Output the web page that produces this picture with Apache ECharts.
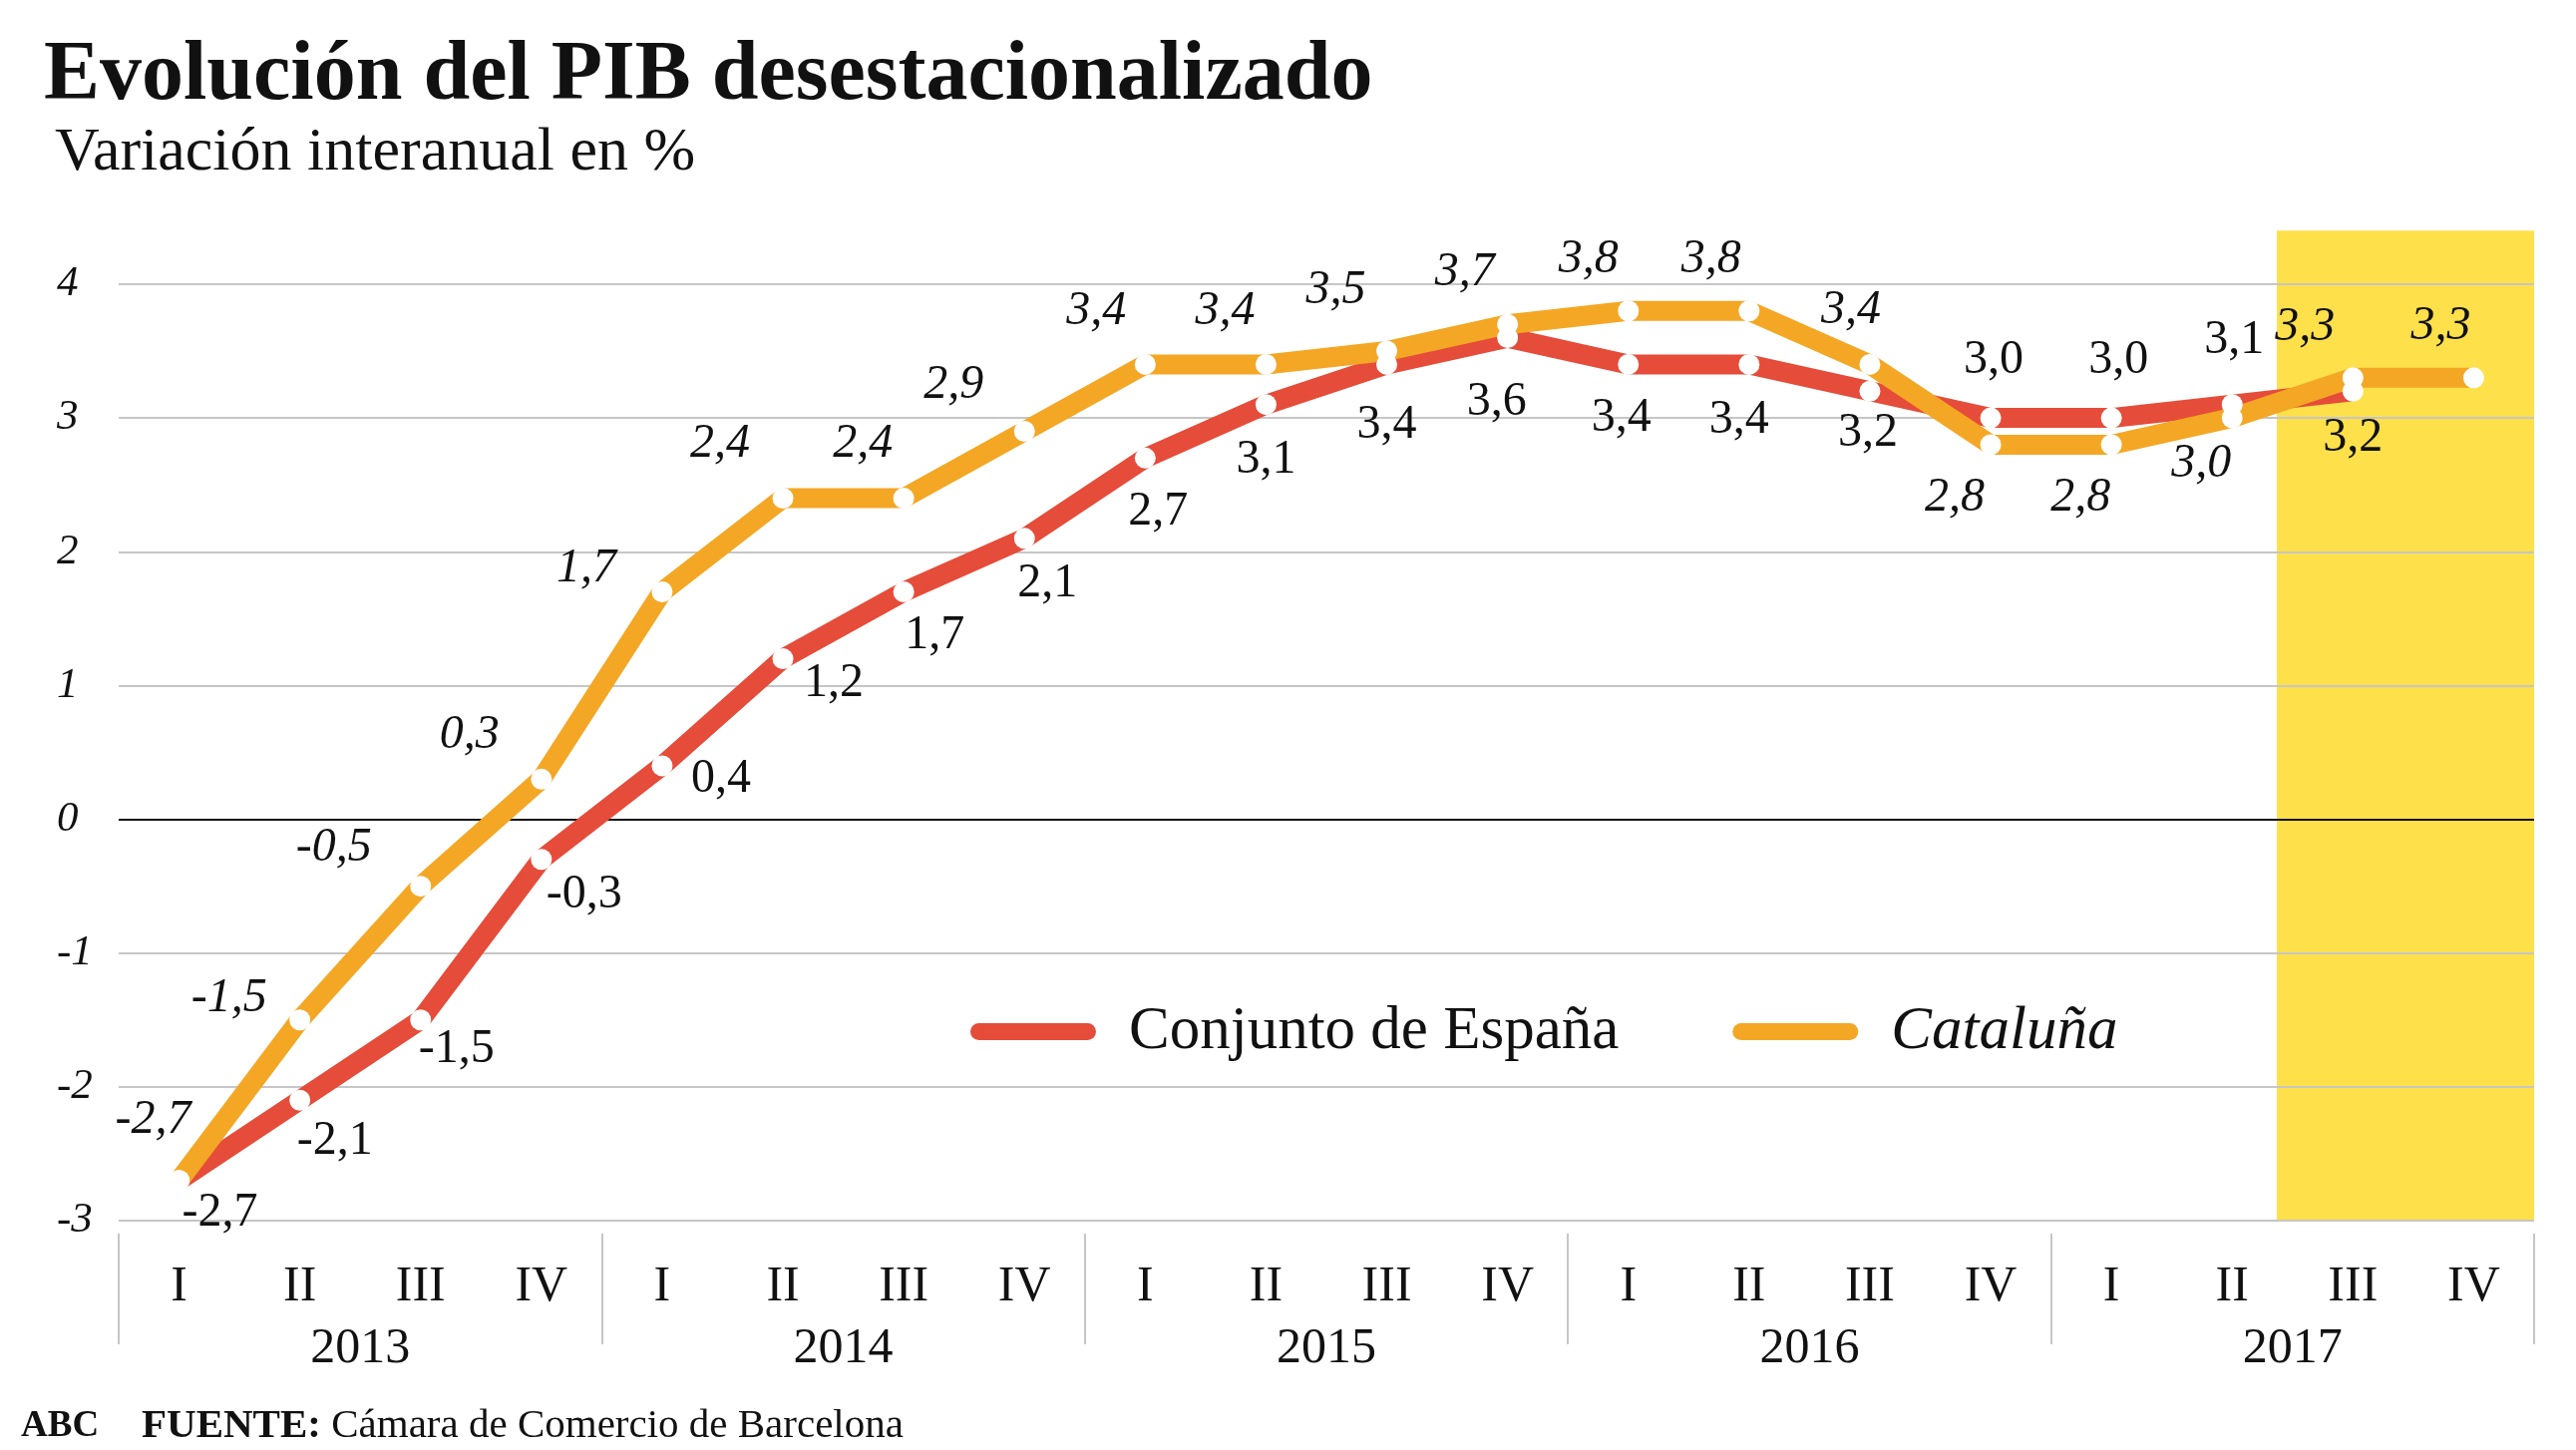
<!DOCTYPE html>
<html><head><meta charset="utf-8">
<script src="https://cdn.jsdelivr.net/npm/echarts@6/dist/echarts.min.js"></script>
<style>html,body{margin:0;padding:0;background:#fff}#c{width:2583px;height:1454px}</style>
</head><body><div id="c"></div>
<script>
// ---- data ----
const quarters = ['I','II','III','IV','I','II','III','IV','I','II','III','IV','I','II','III','IV','I','II','III','IV'];
const years = ['2013','2014','2015','2016','2017'];
const espana = [-2.7,-2.1,-1.5,-0.3, 0.4,1.2,1.7,2.1, 2.7,3.1,3.4,3.6, 3.4,3.4,3.2,3.0, 3.0,3.1,3.2,null];
const cataluna = [-2.7,-1.5,-0.5,0.3, 1.7,2.4,2.4,2.9, 3.4,3.4,3.5,3.7, 3.8,3.8,3.4,2.8, 2.8,3.0,3.3,3.3];
const seriesNames = ['Conjunto de España','Cataluña'];
const highlightRange = [17.87, 20]; // shaded band, in category units (2017 III-IV)

// ---- label placement (layout, px offsets from point) ----
const espanaLabelOffsets = [[41,33],[35,41],[36,30],[43,36],[59,13],[51,25],[31,44],[23,46],[13,54],[0,56],[0,61],[-11,65],[-7,54],[-10,56],[-2,42],[3,-58],[7,-58],[2,-64],[0,47],[0,0]];
const catalunaLabelOffsets = [[-26,-60],[-71,-21],[-87,-38],[-72,-44],[-76,-23],[-63,-54],[-41,-54],[-71,-46],[-49,-53],[-41,-53],[-51,-61],[-43,-52],[-40,-51],[-38,-51],[-19,-54],[-36,53],[-31,53],[-31,46],[-48,-50],[-33,-51]];

const RED = '#E54C39', ORANGE = '#F4A724', YELLOW = '#FEE04A', INK = '#111111', GRID = '#c6c6c6';
const FF = '"Liberation Serif", serif';
const fmt = v => v.toFixed(1).replace('.', ',');

function pts(values, offsets){
  return values.map((v,i) => v == null ? '-' : {
    value: v,
    label: {offset: offsets[i]}
  });
}
function labelStyle(italic){
  return {
    show: true, position: 'inside', formatter: p => fmt(p.value),
    fontFamily: FF, fontSize: 48, fontStyle: italic ? 'italic' : 'normal',
    color: INK, align: 'center', verticalAlign: 'middle',
    textBorderWidth: 0, textBorderColor: 'transparent', opacity: 1
  };
}

const chart = echarts.init(document.getElementById('c'), null, {renderer: 'canvas'});
const option = {
  backgroundColor: '#fff',
  animation: false,
  textStyle: {fontFamily: FF},
  grid: {left: 119, right: 42, top: 231.3, bottom: 230, containLabel: false, outerBoundsMode: 'none'},
  legend: {
    left: 968, top: 999, itemWidth: 126, itemHeight: 17, itemGap: 114,
    icon: 'path://M8.5,0 H117.5 A8.5,8.5 0 0 1 117.5,17 H8.5 A8.5,8.5 0 0 1 8.5,0 Z',
    selectedMode: false,
    textStyle: {fontFamily: FF, fontSize: 61, lineHeight: 61, color: INK, padding: [0,0,0,28]},
    data: [
      {name: seriesNames[0], textStyle: {fontStyle: 'normal'}},
      {name: seriesNames[1], textStyle: {fontStyle: 'italic'}}
    ]
  },
  xAxis: [
    {type: 'category', data: quarters, boundaryGap: true, gridIndex: 0, position: 'bottom',
     axisLine: {show: false}, axisTick: {show: false},
     axisLabel: {fontFamily: FF, fontSize: 50, lineHeight: 50, color: INK, margin: 42, interval: 0}},
    {type: 'category', data: years, boundaryGap: true, gridIndex: 0, position: 'bottom', offset: 13,
     axisLine: {show: false},
     axisTick: {show: true, length: 111, lineStyle: {color: GRID, width: 2}},
     axisLabel: {fontFamily: FF, fontSize: 50, lineHeight: 50, color: INK, margin: 91, interval: 0}},
    {type: 'value', min: 0, max: 20, show: false, gridIndex: 0}
  ],
  yAxis: {
    type: 'value', min: -3, max: 4.4, interval: 1, z: 1,
    axisLine: {show: false}, axisTick: {show: false},
    axisLabel: {formatter: v => Number.isInteger(v) ? String(v) : '', fontFamily: FF, fontSize: 43,
      fontStyle: 'italic', color: INK, align: 'left', margin: 62, padding: [0,0,10,0]},
    splitLine: {show: true, showMaxLine: false, showMinLine: true,
      lineStyle: {color: [GRID,GRID,GRID,INK,GRID,GRID,GRID,GRID,GRID], width: 2}}
  },
  series: [
    {type: 'line', name: '_highlight', xAxisIndex: 2, yAxisIndex: 0, data: [], z: 0, zlevel: 0, silent: true,
     markArea: {silent: true, z: 0, itemStyle: {color: YELLOW, opacity: 1}, label: {show: false},
       data: [[{xAxis: highlightRange[0], yAxis: -3}, {xAxis: highlightRange[1], yAxis: 4.4}]]}},
    {type: 'line', name: seriesNames[0], data: espana, color: RED, showSymbol: false, z: 2,
     lineStyle: {width: 20, color: RED}, emphasis: {disabled: true}},
    {type: 'line', name: seriesNames[1], data: cataluna, color: ORANGE, showSymbol: false, z: 3,
     lineStyle: {width: 20, color: ORANGE}, emphasis: {disabled: true}},
    {type: 'scatter', name: '_pE', data: pts(espana, espanaLabelOffsets), symbol: 'circle', symbolSize: 21,
     itemStyle: {color: '#fff', opacity: 1}, z: 4, label: labelStyle(false), emphasis: {disabled: true}},
    {type: 'scatter', name: '_pC', data: pts(cataluna, catalunaLabelOffsets), symbol: 'circle', symbolSize: 21,
     itemStyle: {color: '#fff', opacity: 1}, z: 5, label: labelStyle(true), emphasis: {disabled: true}}
  ],
  graphic: [
    {type: 'text', silent: true, style: {x: 44, y: 77.5, verticalAlign: 'middle', text: 'Evolución del PIB desestacionalizado',
      font: 'bold 84px "Liberation Serif"', fill: INK}},
    {type: 'text', silent: true, style: {x: 55, y: 153.5, verticalAlign: 'middle', text: 'Variación interanual en %',
      font: '62px "Liberation Serif"', fill: INK}},
    {type: 'text', silent: true, style: {x: 21, y: 1430.5, verticalAlign: 'middle', text: 'ABC',
      font: 'bold 37px "Liberation Serif"', fill: INK}},
    {type: 'text', silent: true, style: {x: 142, y: 1430.5, verticalAlign: 'middle',
      text: '{b|FUENTE:} Cámara de Comercio de Barcelona',
      font: '41px "Liberation Serif"', fill: INK,
      rich: {b: {fontWeight: 'bold', fontSize: 41, fontFamily: FF, fill: INK}}}}
  ]
};
chart.setOption(option);
</script></body></html>
